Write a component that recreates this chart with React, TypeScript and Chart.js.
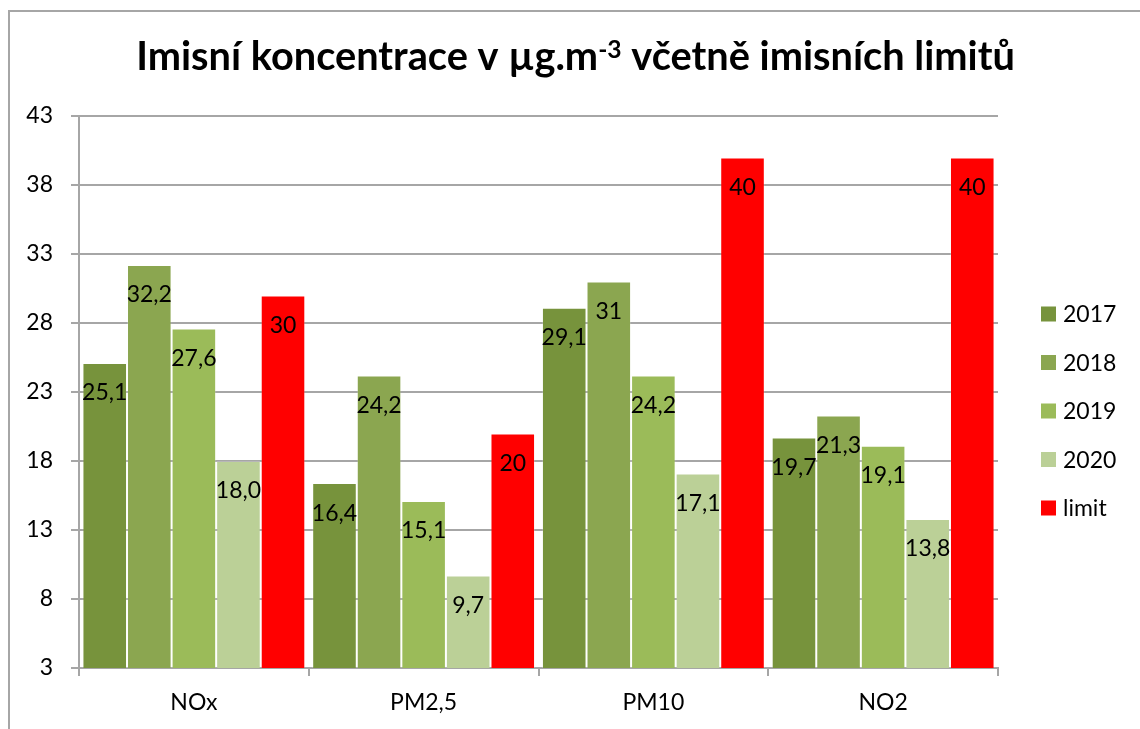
import React, { useEffect, useRef } from "react";
import { Chart, registerables } from "chart.js";

Chart.register(...registerables);

// ---- data ----
const categories = ["NOx", "PM2,5", "PM10", "NO2"];
const seriesNames = ["2017", "2018", "2019", "2020", "limit"];
const values2017 = [25.1, 16.4, 29.1, 19.7];
const values2018 = [32.2, 24.2, 31, 21.3];
const values2019 = [27.6, 15.1, 24.2, 19.1];
const values2020 = [18.0, 9.7, 17.1, 13.8];
const valuesLimit = [30, 20, 40, 40];
const labels2017 = ["25,1", "16,4", "29,1", "19,7"];
const labels2018 = ["32,2", "24,2", "31", "21,3"];
const labels2019 = ["27,6", "15,1", "24,2", "19,1"];
const labels2020 = ["18,0", "9,7", "17,1", "13,8"];
const labelsLimit = ["30", "20", "40", "40"];
const yMin = 3;
const yMax = 43;
const yStep = 5;
const titleMain = "Imisní koncentrace v µg.m";
const titleSup = "-3";
const titleRest = " včetně imisních limitů";

const colors = ["#77933C", "#8BA650", "#9BBB59", "#BBD097", "#FF0000"];
const FONT = "Lato, 'Open Sans', sans-serif";
const FS = 23;

const allValues = [values2017, values2018, values2019, values2020, valuesLimit];
const allLabels = [labels2017, labels2018, labels2019, labels2020, labelsLimit];

const framePlugin = {
  id: "frame",
  beforeDraw(chart: any) {
    const ctx = chart.ctx;
    ctx.save();
    ctx.fillStyle = "#ffffff";
    ctx.fillRect(0, 0, chart.width, chart.height);
    ctx.strokeStyle = "#a6a6a6";
    ctx.lineWidth = 2;
    ctx.beginPath();
    ctx.moveTo(8, 11);
    ctx.lineTo(chart.width, 11);
    ctx.moveTo(9, 10);
    ctx.lineTo(9, chart.height);
    ctx.stroke();
    ctx.restore();
  },
};

const titlePlugin = {
  id: "customTitle",
  afterDraw(chart: any) {
    const ctx = chart.ctx;
    ctx.save();
    const targetW = 879;
    const base = 40;
    const measure = (size: number) => {
      ctx.font = `bold ${size}px ${FONT}`;
      const a = ctx.measureText(titleMain).width;
      const c = ctx.measureText(titleRest).width;
      ctx.font = `bold ${size * 0.62}px ${FONT}`;
      const b = ctx.measureText(titleSup).width;
      return { a, b, c, total: a + b + c };
    };
    const m0 = measure(base);
    const size = Math.min(40, (base * targetW) / m0.total);
    const m = measure(size);
    const cx = 575.5;
    const baseline = 70;
    let x = cx - m.total / 2;
    ctx.fillStyle = "#000";
    ctx.textBaseline = "alphabetic";
    ctx.textAlign = "left";
    ctx.font = `bold ${size}px ${FONT}`;
    ctx.fillText(titleMain, x, baseline);
    x += m.a;
    ctx.font = `bold ${size * 0.62}px ${FONT}`;
    ctx.fillText(titleSup, x, baseline - size * 0.3);
    x += m.b;
    ctx.font = `bold ${size}px ${FONT}`;
    ctx.fillText(titleRest, x, baseline);
    ctx.restore();
  },
};

const labelPlugin = {
  id: "barLabels",
  afterDatasetsDraw(chart: any) {
    const ctx = chart.ctx;
    ctx.save();
    ctx.font = `${FS}px ${FONT}`;
    ctx.fillStyle = "#000";
    ctx.textAlign = "center";
    ctx.textBaseline = "middle";
    chart.data.datasets.forEach((ds: any, di: number) => {
      const meta = chart.getDatasetMeta(di);
      meta.data.forEach((el: any, i: number) => {
        const txt = allLabels[di][i];
        ctx.fillText(txt, el.x, el.y + 30);
      });
    });
    ctx.restore();
  },
};

const legendPlugin = {
  id: "customLegend",
  afterDraw(chart: any) {
    const ctx = chart.ctx;
    ctx.save();
    ctx.font = `${FS}px ${FONT}`;
    ctx.textAlign = "left";
    ctx.textBaseline = "middle";
    const startY = 314;
    const gap = 48.5;
    chart.data.datasets.forEach((ds: any, i: number) => {
      const cy = startY + i * gap;
      ctx.fillStyle = ds.backgroundColor;
      ctx.fillRect(1041, cy - 7.5, 15, 15);
      ctx.fillStyle = "#000";
      ctx.fillText(ds.label, 1063, cy + 1);
    });
    ctx.restore();
  },
};

export default function App() {
  const ref = useRef<HTMLCanvasElement>(null);
  useEffect(() => {
    if (!ref.current) return;
    const chart = new Chart(ref.current, {
      type: "bar",
      data: {
        labels: categories,
        datasets: seriesNames.map((name, i) => ({
          label: name,
          data: allValues[i],
          backgroundColor: colors[i],
          borderColor: "rgba(255,255,255,0.2)",
          borderWidth: 1,
          categoryPercentage: 0.97,
          barPercentage: 1,
        })),
      },
      options: {
        responsive: false,
        animation: false,
        devicePixelRatio: 1,
        layout: { padding: { left: 0, top: 116, right: 142, bottom: 0 } },
        plugins: {
          legend: { display: false },
          title: { display: false },
          tooltip: { enabled: false },
        },
        scales: {
          x: {
            grid: {
              display: true,
              drawOnChartArea: false,
              drawTicks: true,
              tickLength: 8,
              color: "#a6a6a6",
              lineWidth: 2,
              offset: true,
            },
            border: { display: true, color: "#a6a6a6", width: 2 },
            ticks: {
              color: "#000",
              font: { family: FONT, size: FS },
              padding: 13,
            },
            afterFit: (s: any) => {
              s.height = 729 - 668;
            },
          },
          y: {
            min: yMin,
            max: yMax,
            ticks: {
              stepSize: yStep,
              color: "#000",
              font: { family: FONT, size: FS },
              padding: 18,
            },
            grid: {
              color: "#a6a6a6",
              lineWidth: 2,
              tickLength: 8,
              drawTicks: true,
            },
            border: { display: true, color: "#a6a6a6", width: 2 },
            afterFit: (s: any) => {
              s.width = 79;
            },
          },
        },
      },
      plugins: [framePlugin, titlePlugin, labelPlugin, legendPlugin],
    });
    return () => chart.destroy();
  }, []);
  return (
    <div style={{ position: "absolute", left: 0, top: 0, width: 1140, height: 729 }}>
      <canvas ref={ref} width={1140} height={729} style={{ display: "block" }} />
    </div>
  );
}
